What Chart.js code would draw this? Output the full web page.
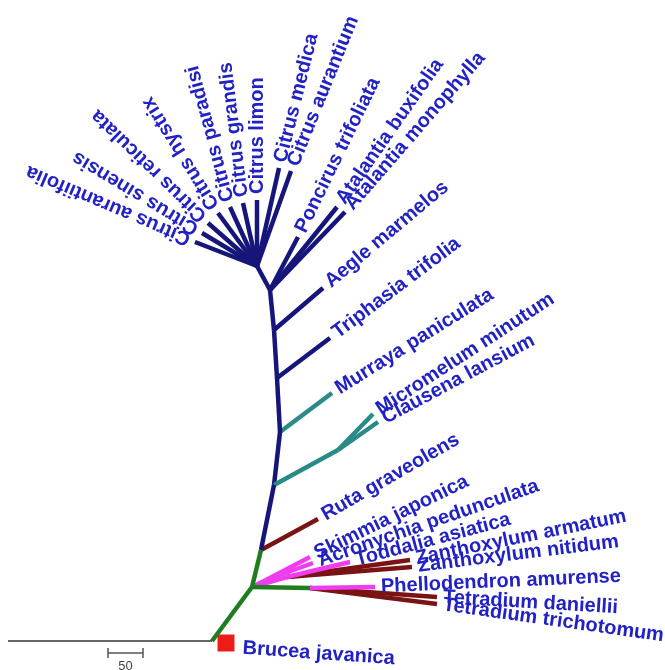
<!DOCTYPE html>
<html>
<head>
<meta charset="utf-8">
<script src="https://cdn.jsdelivr.net/npm/chart.js@4.4.0/dist/chart.umd.min.js"></script>
<style>
  html, body { margin: 0; padding: 0; background: #fff; }
  #tree { display: block; }
</style>
</head>
<body>
<canvas id="tree" width="665" height="670"></canvas>
<script>
// internal nodes of the tree (plot units, y grows downward)
const nodeNames  = ['root', 'base', 'A', 'B', 'C', 'E', 'F', 'H', 'I', 'J', 'K', 'L', 'M', 'N'];
const nodeX      = [8, 212, 252, 261, 310, 266, 287, 274, 338, 280, 277, 274, 270, 257];
const nodeY      = [641, 641, 587, 550, 588, 580, 577, 485, 450, 432, 378, 330, 290, 266];
const nodeParent = [null, 'root', 'base', 'A', 'A', 'A', 'A', 'B', 'H', 'H', 'J', 'K', 'L', 'M'];
const nodeClade  = [null, 'root', 'stem', 'stem', 'stem', 'toddalioid', 'toddalioid',
                    'aurantioid', 'clausenoid', 'aurantioid', 'aurantioid', 'aurantioid', 'aurantioid', 'aurantioid'];

// terminal taxa
const taxa = [
  'Citrus aurantiifolia', 'Citrus sinensis', 'Citrus reticulata', 'Citrus hystrix',
  'Citrus paradisi', 'Citrus grandis', 'Citrus limon', 'Citrus medica', 'Citrus aurantium',
  'Poncirus trifoliata', 'Atalantia buxifolia', 'Atalantia monophylla', 'Aegle marmelos',
  'Triphasia trifolia', 'Murraya paniculata', 'Micromelum minutum', 'Clausena lansium',
  'Ruta graveolens', 'Skimmia japonica', 'Acronychia pedunculata', 'Toddalia asiatica',
  'Zanthoxylum armatum', 'Zanthoxylum nitidum', 'Phellodendron amurense',
  'Tetradium daniellii', 'Tetradium trichotomum'
];
const tipX = [195, 202, 208, 218, 230, 243, 257, 279, 291, 298, 337, 345, 323,
              330, 332, 373, 378, 318, 310, 313, 350, 410, 412, 375, 437, 437];
const tipY = [242, 233, 223, 213, 207, 203, 200, 168, 171, 237, 207, 212, 288,
              338, 393, 414, 422, 519, 557, 563, 562, 560, 567, 587, 597, 604];
const tipParent = ['N', 'N', 'N', 'N', 'N', 'N', 'N', 'N', 'N', 'M', 'M', 'M', 'L',
                   'K', 'J', 'I', 'I', 'B', 'E', 'E', 'F', 'F', 'F', 'C', 'C', 'C'];
const tipClade = ['aurantioid', 'aurantioid', 'aurantioid', 'aurantioid', 'aurantioid',
                  'aurantioid', 'aurantioid', 'aurantioid', 'aurantioid', 'aurantioid',
                  'aurantioid', 'aurantioid', 'aurantioid', 'aurantioid', 'clausenoid',
                  'clausenoid', 'clausenoid', 'rutoid', 'toddalioid', 'toddalioid',
                  'toddalioid', 'rutoid', 'rutoid', 'toddalioid', 'rutoid', 'rutoid'];
// label direction, degrees
const labelAngles = [-157, -149, -136, -122, -105, -97, -90, -76, -68, -64, -55, -49, -40,
                     -37, -32, -33, -28, -30, -26, -19, -15, -11.5, -7, -2.5, 3.4, 8];

// outgroup
const outgroupName = 'Brucea javanica';
const outgroupX = 226;
const outgroupY = 643;

// scale bar
const scaleBarLabel = '50';
const scaleBarX = [108, 143];
const scaleBarY = 653;

const cladeColors = {
  root: '#333333',
  stem: '#1f7d1f',
  aurantioid: '#15157a',
  clausenoid: '#2a8a86',
  rutoid: '#7a1414',
  toddalioid: '#ee3cee'
};

const datasets = [];
function edge(x0, y0, x1, y1, clade) {
  datasets.push({
    data: [{ x: x0, y: y0 }, { x: x1, y: y1 }],
    showLine: true,
    borderColor: cladeColors[clade],
    borderWidth: clade === 'root' ? 1.5 : 4.5,
    borderCapStyle: 'butt',
    pointRadius: 0,
    clip: false
  });
}

const idx = name => nodeNames.indexOf(name);
nodeNames.forEach((n, i) => {
  if (!nodeParent[i]) return;
  const p = idx(nodeParent[i]);
  edge(nodeX[p], nodeY[p], nodeX[i], nodeY[i], nodeClade[i]);
});
taxa.forEach((t, i) => {
  const p = idx(tipParent[i]);
  edge(nodeX[p], nodeY[p], tipX[i], tipY[i], tipClade[i]);
});

// outgroup marker
datasets.push({
  data: [{ x: outgroupX, y: outgroupY }],
  pointStyle: 'rect',
  pointRadius: 12,
  backgroundColor: '#ee1b1b',
  borderWidth: 0,
  clip: false
});

// scale bar and its end ticks
const barStyle = { showLine: true, borderColor: '#555', borderWidth: 1.5, pointRadius: 0, clip: false };
datasets.push(Object.assign({ data: scaleBarX.map(v => ({ x: v, y: scaleBarY })) }, barStyle));
scaleBarX.forEach(v => {
  datasets.push(Object.assign({ data: [{ x: v, y: scaleBarY - 5 }, { x: v, y: scaleBarY + 5 }] }, barStyle));
});

// tip labels drawn along branch direction
const tipLabels = {
  id: 'tipLabels',
  afterDatasetsDraw(chart) {
    const { ctx, scales: { x, y } } = chart;
    ctx.save();
    ctx.font = 'bold 20px "Liberation Sans", Arial, sans-serif';
    ctx.fillStyle = '#2222c4';
    ctx.textBaseline = 'middle';
    ctx.textAlign = 'left';
    taxa.forEach((name, i) => {
      ctx.save();
      ctx.translate(x.getPixelForValue(tipX[i]), y.getPixelForValue(tipY[i]));
      ctx.rotate(labelAngles[i] * Math.PI / 180);
      ctx.fillText(name, 6, 0);
      ctx.restore();
    });
    // outgroup label
    ctx.save();
    ctx.translate(x.getPixelForValue(outgroupX), y.getPixelForValue(outgroupY));
    ctx.rotate(4 * Math.PI / 180);
    ctx.fillText(outgroupName, 17, 4);
    ctx.restore();
    // scale bar label
    ctx.font = '13px "Liberation Sans", Arial, sans-serif';
    ctx.fillStyle = '#444';
    ctx.textAlign = 'center';
    ctx.textBaseline = 'top';
    ctx.fillText(scaleBarLabel, x.getPixelForValue((scaleBarX[0] + scaleBarX[1]) / 2), y.getPixelForValue(scaleBarY + 7));
    ctx.restore();
  }
};

new Chart(document.getElementById('tree'), {
  type: 'scatter',
  data: { datasets: datasets },
  options: {
    responsive: false,
    animation: false,
    events: [],
    layout: { padding: 0, autoPadding: false },
    scales: {
      x: { type: 'linear', min: 0, max: 665, display: false },
      y: { type: 'linear', min: 0, max: 670, reverse: true, display: false }
    },
    plugins: {
      legend: { display: false },
      tooltip: { enabled: false }
    }
  },
  plugins: [tipLabels]
});
</script>
</body>
</html>
